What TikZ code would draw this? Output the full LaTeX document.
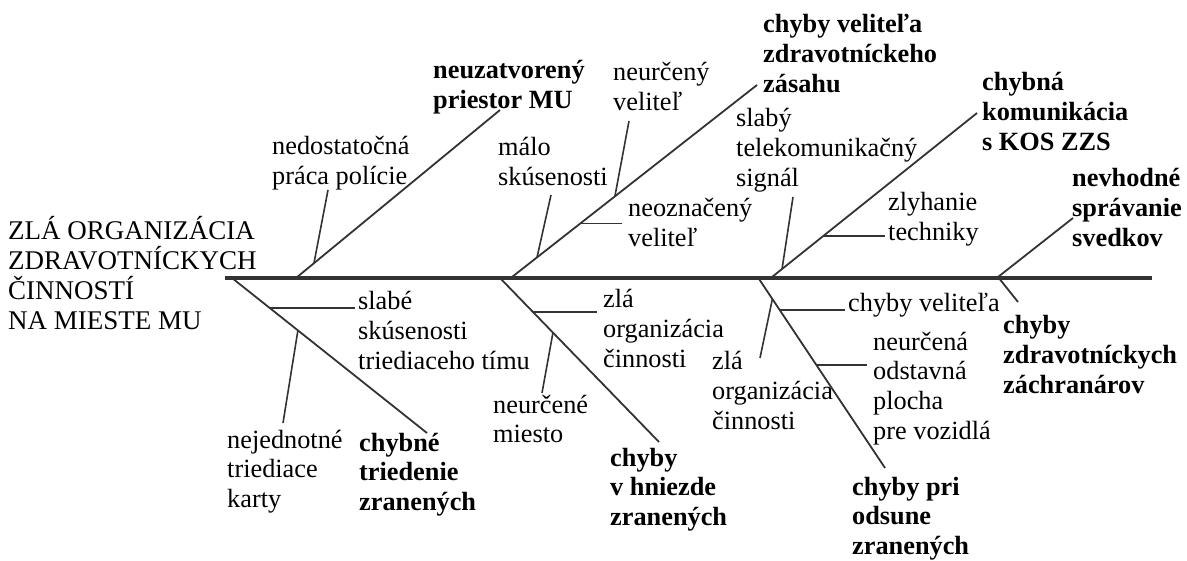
\documentclass[tikz,border=0pt]{standalone}
\usepackage{fontspec}
\setmainfont{Liberation Serif}
\usetikzlibrary{calc}
\definecolor{ln}{HTML}{333333}
\begin{document}
\begin{tikzpicture}[x=1pt,y=-1pt,
  lbl/.style={anchor=base west, inner sep=0pt, align=left, font=\fontsize{26.3}{29.7}\selectfont},
  blbl/.style={lbl, font=\fontsize{26.3}{29.7}\selectfont\bfseries},
  spine/.style={draw=ln, line width=4.5pt},
  bone/.style={draw=ln, line width=1.8pt},
  rib/.style={draw=ln, line width=1.6pt}]
\useasboundingbox (0,0) rectangle (1187,561);
% note: anchor=base of a multi-line node is the baseline of its last line

% spine
\coordinate (S0) at (225,278);
\coordinate (S1) at (1152,278);
\draw[spine] (S0) -- (S1);

% main label
\node[lbl, font=\fontsize{27}{29.7}\selectfont] (head) at (8,329.1) {ZLÁ ORGANIZÁCIA\\ZDRAVOTNÍCKYCH\\ČINNOSTÍ\\NA MIESTE MU};

% ---------- upper bones ----------
\coordinate (U1a) at (296,278); \coordinate (U1b) at (500,110);
\coordinate (U2a) at (512,277); \coordinate (U2b) at (757,85);
\coordinate (U3a) at (772,277); \coordinate (U3b) at (977,113);
\coordinate (U4a) at (998,277); \coordinate (U4b) at (1073,218);
\draw[bone] (U1a) -- (U1b);
\draw[bone] (U2a) -- (U2b);
\draw[bone] (U3a) -- (U3b);
\draw[bone] (U4a) -- (U4b);

\node[blbl] (u1) at (433,108.7) {neuzatvorený\\priestor MU};
\node[blbl] (u2) at (763,92.4) {chyby veliteľa\\zdravotníckeho\\zásahu};
\node[blbl] (u3) at (982,150.4) {chybná\\komunikácia\\s KOS ZZS};
\node[blbl] (u4) at (1072,246.4) {nevhodné\\správanie\\svedkov};

% ribs on U1
\coordinate (r1a) at ($(U1a)!0.088!(U1b)$); \coordinate (r1b) at (328,190);
\draw[rib] (r1a) -- (r1b);
\node[lbl] (t1) at (272,184.7) {nedostatočná\\práca polície};

% ribs on U2
\coordinate (r2a) at ($(U2a)!0.102!(U2b)$); \coordinate (r2b) at (551,195);
\draw[rib] (r2a) -- (r2b);
\node[lbl] (t2) at (498,185.7) {málo\\skúsenosti};
\coordinate (r3a) at ($(U2a)!0.42!(U2b)$); \coordinate (r3b) at (629,121);
\draw[rib] (r3a) -- (r3b);
\node[lbl] (t3) at (613,110.7) {neurčený\\veliteľ};
\coordinate (r4a) at ($(U2a)!0.278!(U2b)$); \coordinate (r4b) at (622,224);
\draw[rib] (r4a) -- (r4a -| r4b);
\node[lbl] (t4) at (628,246.7) {neoznačený\\veliteľ};

% ribs on U3
\coordinate (r5a) at ($(U3a)!0.049!(U3b)$); \coordinate (r5b) at (793,197);
\draw[rib] (r5a) -- (r5b);
\node[lbl] (t5) at (736,186.4) {slabý\\telekomunikačný\\signál};
\coordinate (r6a) at ($(U3a)!0.249!(U3b)$); \coordinate (r6b) at (885,236);
\draw[rib] (r6a) -- (r6a -| r6b);
\node[lbl] (t6) at (888,240.7) {zlyhanie\\techniky};

% ---------- lower bones ----------
\coordinate (L1a) at (232,278); \coordinate (L1b) at (427,433);
\coordinate (L2a) at (500,278); \coordinate (L2b) at (659,442);
\coordinate (L3a) at (759,279); \coordinate (L3b) at (885,468);
\coordinate (L4a) at (998,277); \coordinate (L4b) at (1018,302);
\draw[bone] (L1a) -- (L1b);
\draw[bone] (L2a) -- (L2b);
\draw[bone] (L3a) -- (L3b);
\draw[bone] (L4a) -- (L4b);

\node[blbl] (l1) at (359,510.4) {chybné\\triedenie\\zranených};
\node[blbl] (l2) at (610,525.4) {chyby\\v hniezde\\zranených};
\node[blbl] (l3) at (852,554.4) {chyby pri\\odsune\\zranených};
\node[blbl] (l4) at (1003,393.4) {chyby\\zdravotníckych\\záchranárov};

% ribs on L1
\coordinate (q1a) at ($(L1a)!0.195!(L1b)$); \coordinate (q1b) at (355,309);
\draw[rib] (q1a) -- (q1a -| q1b);
\node[lbl] (s1) at (358,369.4) {slabé\\skúsenosti\\triediaceho tímu};
\coordinate (q2a) at ($(L1a)!0.338!(L1b)$); \coordinate (q2b) at (283,423);
\draw[rib] (q2a) -- (q2b);
\node[lbl] (s2) at (227,507.4) {nejednotné\\triediace\\karty};

% ribs on L2
\coordinate (q3a) at ($(L2a)!0.2075!(L2b)$); \coordinate (q3b) at (597,312);
\draw[rib] (q3a) -- (q3a -| q3b);
\node[lbl] (s3) at (603,367.4) {zlá\\organizácia\\činnosti};
\coordinate (q4a) at ($(L2a)!0.333!(L2b)$); \coordinate (q4b) at (542,393);
\draw[rib] (q4a) -- (q4b);
\node[lbl] (s4) at (493,442.7) {neurčené\\miesto};

% ribs on L3
\coordinate (q5a) at ($(L3a)!0.164!(L3b)$); \coordinate (q5b) at (845,310);
\draw[rib] (q5a) -- (q5a -| q5b);
\node[lbl] (s5) at (848,312) {chyby veliteľa};
\coordinate (q6a) at ($(L3a)!0.106!(L3b)$); \coordinate (q6b) at (760,358);
\draw[rib] (q6a) -- (q6b);
\node[lbl] (s6) at (712,429.4) {zlá\\organizácia\\činnosti};
\coordinate (q7a) at ($(L3a)!0.455!(L3b)$); \coordinate (q7b) at (867,365);
\draw[rib] (q7a) -- (q7a -| q7b);
\node[lbl] (s7) at (873,439.1) {neurčená\\odstavná\\plocha\\pre vozidlá};
\end{tikzpicture}
\end{document}
